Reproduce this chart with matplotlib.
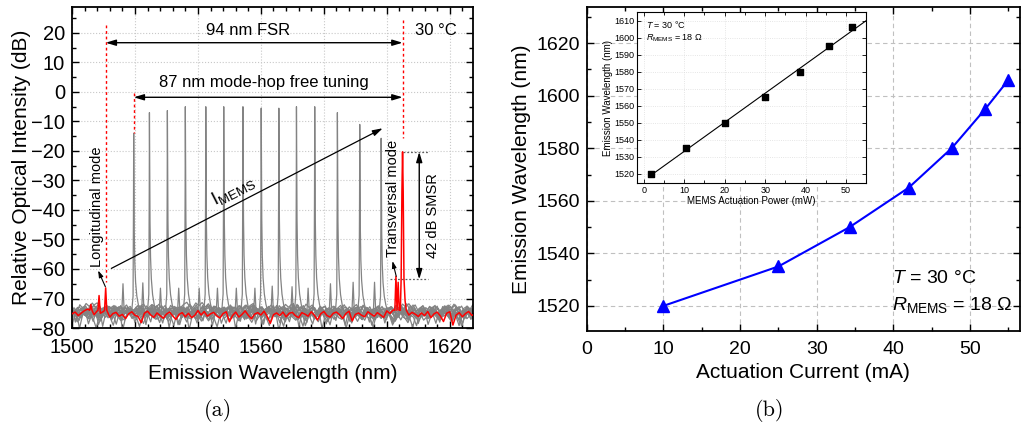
import numpy as np
import matplotlib
matplotlib.use('Agg')
import matplotlib.pyplot as plt
from matplotlib.ticker import MultipleLocator

plt.rcParams['font.family'] = 'Liberation Sans'
plt.rcParams['mathtext.fontset'] = 'custom'
plt.rcParams['mathtext.rm'] = 'Liberation Sans'
plt.rcParams['mathtext.it'] = 'Liberation Sans:italic'
plt.rcParams['mathtext.default'] = 'regular'

# ---------------- data: (a) spectra ----------------
wl_start, wl_stop = 1500, 1628
# noise floor of the red spectrum, 1 nm steps from 1500 to 1628 nm (dB)
red_floor = [
    -75.2, -74.6, -75.8, -74.9, -74.1, -73.6, -74.8, -75.5, -74.2, -75.0,
    -74.4, -75.9, -76.3, -75.1, -74.7, -76.0, -75.4, -76.8, -75.2, -74.5,
    -75.7, -76.1, -78.2, -75.0, -74.3, -75.6, -76.4, -74.9, -75.8, -76.7,
    -75.3, -74.6, -75.9, -77.1, -75.4, -74.8, -76.2, -75.0, -76.5, -75.7,
    -74.1, -75.6, -74.4, -76.0, -75.2, -74.7, -75.9, -76.6, -75.1, -74.5,
    -77.9, -75.8, -74.6, -76.3, -75.4, -74.2, -75.7, -76.9, -75.3, -74.8,
    -75.6, -74.3, -76.1, -78.4, -75.5, -74.9, -75.8, -74.6, -76.2, -75.0,
    -74.7, -75.9, -76.5, -74.8, -75.3, -76.0, -74.5, -75.7, -77.3, -75.2,
    -74.4, -75.8, -76.3, -75.0, -74.6, -75.5, -76.8, -75.1, -74.3, -77.6,
    -75.4, -74.9, -75.7, -76.2, -74.5, -75.3, -76.0, -74.8, -75.6, -76.4,
    -74.2, -75.1, -73.9, -74.6, -73.8, -74.9, -74.1, -75.6, -74.7, -75.3,
    -76.1, -74.9, -75.8, -74.4, -76.5, -75.2, -74.6, -75.9, -77.8, -75.0,
    -74.5, -79.0, -75.6, -74.8, -76.2, -75.1, -74.4, -75.7, -75.3,
]
# level offsets of the gray spectra's floors relative to the red one (dB)
gray_floor_shift = [1.4, 0.2, 1.0, -0.3, 1.6, 0.6, -0.1, 1.2, 0.4, 1.8, -0.4, 0.9, 0.1, 1.3]
# gray spectra: lasing peak and transverse side mode of each setting
gray_peak_wl = [1519.6, 1524.6, 1530.3, 1536.0, 1542.5, 1548.2, 1554.3,
                1560.1, 1565.7, 1571.3, 1577.1, 1584.3, 1591.4, 1598.2]
gray_peak_db = [-14.0, -7.0, -6.3, -5.0, -5.0, -5.0, -5.0,
                -5.5, -5.5, -5.0, -5.0, -7.0, -11.0, -15.7]
gray_side_wl = [1516.2, 1522.5, 1528.1, 1533.9, 1540.4, 1546.2, 1552.2,
                1558.1, 1563.6, 1569.9, 1575.0, 1582.1, 1589.3, 1596.1]
gray_side_db = [-65.0, -64.7, -66.5, -66.5, -66.5, -66.5, -66.5,
                -66.5, -65.8, -66.0, -66.5, -65.0, -64.5, -64.5]
# red spectrum (highest MEMS current)
red_peak_wl = 1605.0
red_peak_db = -20.3
red_side_wl = [1506.0, 1508.6, 1510.7, 1602.9, 1603.6]
red_side_db = [-72.0, -69.0, -66.4, -62.5, -64.5]

# line shape of a lasing peak (offset in nm, fraction of height above floor)
peak_dx = [-0.6, -0.2, -0.06, 0.0, 0.06, 0.18, 0.35, 0.6, 1.0, 1.5, 2.0]
peak_frac = [0.0, 0.08, 0.6, 1.0, 0.78, 0.45, 0.27, 0.16, 0.08, 0.03, 0.0]
red_dx = [-0.7, -0.45, -0.2, 0.0, 0.2, 0.45, 0.8, 1.2]
red_frac = [0.0, 0.2, 0.75, 1.0, 0.75, 0.2, 0.06, 0.0]
side_dx = [-0.35, 0.0, 0.35]
side_frac = [0.0, 1.0, 0.0]

# ---------------- data: (b) tuning ----------------
current_ma = [10, 25, 34.3, 42.0, 47.6, 52.0, 55.0]
wavelength_nm = [1520, 1535, 1550, 1565, 1580, 1595, 1606]
power_mw = [1.8, 10.5, 20.0, 30.0, 38.5, 45.8, 51.5]
inset_wl = [1520, 1535, 1550, 1565, 1580, 1595, 1606]


def build_trace(wl, fl, peaks, sides, main_dx, main_frac, base=-74.0):
    wl = np.asarray(wl, float)
    fl = np.asarray(fl, float)
    keep = np.ones(len(wl), bool)
    for p, _ in peaks:
        keep &= ~((wl > p + main_dx[0]) & (wl < p + main_dx[-1]))
    for p, _ in sides:
        keep &= ~((wl > p - 0.4) & (wl < p + 0.4))
    xs = [wl[keep]]
    ys = [fl[keep]]
    for p, lv in peaks:
        xs.append(p + np.array(main_dx))
        ys.append(base + np.array(main_frac) * (lv - base))
    for p, lv in sides:
        xs.append(p + np.array(side_dx))
        ys.append(base + np.array(side_frac) * (lv - base))
    x = np.concatenate(xs)
    y = np.concatenate(ys)
    order = np.argsort(x)
    return x[order], y[order]


fig = plt.figure(figsize=(10.24, 4.30), dpi=100)

# ================= (a) =================
ax1 = fig.add_axes([0.0703, 0.2372, 0.392, 0.7465])
wl_grid = np.arange(wl_start, wl_stop + 1)
red_arr = np.array(red_floor)
for k, (pw, pd, sw, sd) in enumerate(zip(gray_peak_wl, gray_peak_db, gray_side_wl, gray_side_db)):
    grid = wl_grid + (k * 0.37) % 1.0
    dev = np.roll(red_arr, 7 * k + 3) + 75.4
    floor = -75.4 + 1.4 * dev + gray_floor_shift[k]
    x, y = build_trace(grid, floor, [(pw, pd)], [(sw, sd)], peak_dx, peak_frac)
    ax1.plot(x, y, color='#838383', lw=0.9, zorder=2)
x, y = build_trace(wl_grid, red_floor, [(red_peak_wl, red_peak_db)],
                   list(zip(red_side_wl, red_side_db)), red_dx, red_frac)
ax1.plot(x, y, color='red', lw=1.1, zorder=3)

ax1.set_xlim(1500, 1627.5)
ax1.set_ylim(-80, 28.8)
ax1.xaxis.set_major_locator(MultipleLocator(20))
ax1.xaxis.set_minor_locator(MultipleLocator(4))
ax1.yaxis.set_major_locator(MultipleLocator(10))
ax1.yaxis.set_minor_locator(MultipleLocator(5))
ax1.grid(True, which='major', color='#c8c8c8', linestyle=':', lw=0.8, zorder=0)
ax1.set_axisbelow(True)
ax1.tick_params(which='both', direction='in', top=True, right=True, labelsize=14.5, width=1)
ax1.tick_params(axis='x', pad=7)
ax1.tick_params(axis='y', pad=5)
ax1.tick_params(which='major', length=5)
ax1.tick_params(which='minor', length=3)
for s in ax1.spines.values():
    s.set_linewidth(1.3)
ax1.set_xlabel('Emission Wavelength (nm)', fontsize=15, labelpad=5)
ax1.set_ylabel('Relative Optical Intensity (dB)', fontsize=15, labelpad=0)

# annotations
red_dots = dict(color='red', linestyle=(0, (2, 2)), lw=1.0, zorder=4)
ax1.plot([1510.7, 1510.7], [22.7, -64.5], **red_dots)
ax1.plot([1519.6, 1519.6], [-0.3, -14.0], **red_dots)
ax1.plot([1605.0, 1605.0], [24.4, -15.6], **red_dots)

dbl = dict(arrowstyle='<|-|>,head_length=0.6,head_width=0.18', color='black', lw=1.0,
           shrinkA=0, shrinkB=0)
ax1.annotate('', xy=(1510.7, 16.7), xytext=(1605.0, 16.7), arrowprops=dbl)
ax1.text(1556, 21.0, '94 nm FSR', ha='center', va='center', fontsize=12)
ax1.annotate('', xy=(1519.6, -1.8), xytext=(1605.0, -1.8), arrowprops=dbl)
ax1.text(1561, 3.3, '87 nm mode-hop free tuning', ha='center', va='center', fontsize=12)
ax1.text(1609, 21.0, '30 °C', ha='left', va='center', fontsize=12)

single = dict(arrowstyle='-|>,head_length=0.6,head_width=0.18', color='black', lw=0.9,
              shrinkA=0, shrinkB=0)
ax1.annotate('', xy=(1598.7, -12.3), xytext=(1512.5, -59.8), arrowprops=single)
ax1.text(1551, -33.5, r'$\mathrm{I}_{\mathrm{MEMS}}$', rotation=27, ha='center', va='center',
         rotation_mode='anchor', fontsize=13.5)

small = dict(arrowstyle='-|>,head_length=0.4,head_width=0.13', color='black', lw=0.8,
             shrinkA=0, shrinkB=0)
ax1.text(1508.1, -39, 'Longitudinal mode', rotation=90, ha='center', va='center', fontsize=10.5)
ax1.annotate('', xy=(1508.3, -60.5), xytext=(1510.6, -66.0), arrowprops=small)
ax1.text(1602.0, -36, 'Transversal mode', rotation=90, ha='center', va='center', fontsize=10.5)
ax1.annotate('', xy=(1601.8, -57.3), xytext=(1603.0, -62.5), arrowprops=small)

ax1.plot([1605.0, 1613.2], [-20.3, -20.3], color='#606060', linestyle=(0, (1.5, 1.5)), lw=0.9)
ax1.plot([1601.0, 1613.2], [-63.5, -63.5], color='#606060', linestyle=(0, (1.5, 1.5)), lw=0.9)
ax1.annotate('', xy=(1610.3, -20.3), xytext=(1610.3, -63.5), arrowprops=dbl)
ax1.text(1614.8, -42, '42 dB SMSR', rotation=90, ha='center', va='center', fontsize=10.5)

# ================= (b) =================
ax2 = fig.add_axes([0.573, 0.230, 0.423, 0.754])
ax2.plot(current_ma, wavelength_nm, color='#0000ff', lw=1.5, marker='^', markersize=9, zorder=3)
ax2.set_xlim(0, 56.5)
ax2.set_ylim(1510.4, 1633.8)
ax2.xaxis.set_major_locator(MultipleLocator(10))
ax2.xaxis.set_minor_locator(MultipleLocator(5))
ax2.yaxis.set_major_locator(MultipleLocator(20))
ax2.yaxis.set_minor_locator(MultipleLocator(10))
ax2.grid(True, which='major', color='#c0c0c0', linestyle=(0, (4, 3)), lw=0.8)
ax2.set_axisbelow(True)
ax2.tick_params(which='both', direction='in', top=True, right=True, labelsize=14, width=1)
ax2.tick_params(axis='x', pad=7)
ax2.tick_params(axis='y', pad=5)
ax2.tick_params(which='major', length=5)
ax2.tick_params(which='minor', length=3)
for s in ax2.spines.values():
    s.set_linewidth(1.3)
ax2.set_xlabel('Actuation Current (mA)', fontsize=15, labelpad=4)
ax2.set_ylabel('Emission Wavelength (nm)', fontsize=15, labelpad=4)
ax2.text(39.8, 1530.4, r'$\mathit{T}$ = 30 °C', fontsize=14, ha='left', va='center')
ax2.text(39.8, 1520.2, r'$\mathit{R}_{\mathrm{MEMS}}$ = 18 Ω', fontsize=14, ha='left', va='center')

# inset
ax3 = fig.add_axes([0.622, 0.574, 0.224, 0.398])
ax3.set_facecolor('white')
ax3.scatter(power_mw, inset_wl, marker='s', s=22, color='black', zorder=3)
slope, icpt = np.polyfit(power_mw, inset_wl, 1)
fit_x = np.array([1.5, 55.0])
ax3.plot(fit_x, slope * fit_x + icpt, color='black', lw=0.8, zorder=2)
ax3.set_xlim(-1.7, 55)
ax3.set_ylim(1514.5, 1615)
ax3.xaxis.set_major_locator(MultipleLocator(10))
ax3.xaxis.set_minor_locator(MultipleLocator(5))
ax3.yaxis.set_major_locator(MultipleLocator(10))
ax3.grid(True, which='major', color='#dddddd', linestyle=':', lw=0.6)
ax3.set_axisbelow(True)
ax3.tick_params(which='both', direction='in', top=True, right=True, labelsize=6.5, pad=2, width=0.6)
ax3.tick_params(which='major', length=3)
ax3.tick_params(which='minor', length=2)
for s in ax3.spines.values():
    s.set_linewidth(0.8)
ax3.set_xlabel('MEMS Actuation Power (mW)', fontsize=7, labelpad=1)
ax3.set_ylabel('Emission Wavelength (nm)', fontsize=7, labelpad=1)
ax3.text(0.5, 1607.5, r'$\mathit{T}$ = 30 °C', fontsize=6.5, ha='left', va='center')
ax3.text(0.5, 1599.6, r'$\mathit{R}_{\mathrm{MEMS}}$ = 18 Ω', fontsize=6.5, ha='left', va='center')

fig.text(218 / 1024, 1 - 410 / 430, '(a)', family='cmr10', fontsize=16, ha='center', va='center')
fig.text(770 / 1024, 1 - 410 / 430, '(b)', family='cmr10', fontsize=16, ha='center', va='center')

fig.savefig('out.png', dpi=100, facecolor='white')
